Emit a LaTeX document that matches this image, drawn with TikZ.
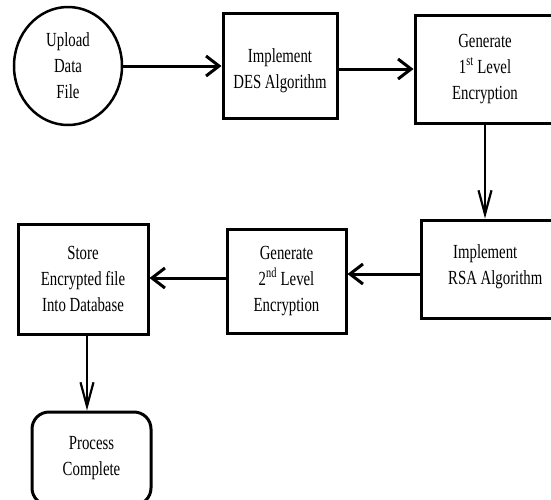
\documentclass[tikz,border=0pt]{standalone}
\usepackage{fontspec}
\setmainfont[FakeStretch=0.74]{Liberation Serif}
\usetikzlibrary{arrows.meta,shapes.geometric}
\begin{document}
\begin{tikzpicture}[x=1pt,y=-1pt,
  lbl/.style={font=\fontsize{20}{26}\selectfont, align=center, inner sep=0pt},
  boxw/.style={draw, line width=3pt, inner sep=0pt, lbl},
  harrow/.style={line width=3pt, -{Straight Barb[length=13pt,width=20pt]}},
  varrow/.style={line width=2.2pt, -{Straight Barb[length=24pt,width=13pt]}},
]
\useasboundingbox (0,0) rectangle (551,499);
\clip (0,0) rectangle (551,499);
\node[ellipse, draw, line width=2.5pt, minimum width=108pt, minimum height=118pt, lbl] (up) at (68,66) {Upload\\Data\\File};
\node[boxw, minimum width=114pt, minimum height=105pt] (des) at (280,65.5) {};
\node[lbl] (dest) at (280,71) {Implement\\DES Algorithm};
\node[boxw, minimum width=140pt, minimum height=108pt] (gen1) at (485,69) {Generate\\1\textsuperscript{st} Level\\Encryption};
\node[boxw, minimum width=134pt, minimum height=98pt] (rsa) at (488,269) {};
\node[lbl, align=left, anchor=west] (rsat) at (448,267) {\hspace*{5pt}Implement\\RSA Algorithm};
\node[boxw, minimum width=119pt, minimum height=104pt] (gen2) at (286.5,281) {Generate\\2\textsuperscript{nd} Level\\Encryption};
\node[boxw, minimum width=130pt, minimum height=110pt] (store) at (83,279) {Store\\Encrypted file\\Into Database};
\node[boxw, rounded corners=17pt, minimum width=119pt, minimum height=93pt] (proc) at (91.5,458.5) {Process\\Complete};
\draw[harrow] (up.east) -- (up.east -| des.west);
\draw[harrow] (des.east |- gen1.west) -- (gen1.west);
\draw[varrow] (gen1.south) -- (gen1.south |- rsa.north);
\draw[harrow] ([yshift=-5pt]rsa.west) -- ([yshift=-5pt]rsa.west -| gen2.east);
\draw[harrow] ([yshift=3pt]gen2.west) -- ([yshift=3pt]gen2.west -| store.east);
\draw[varrow] ([xshift=4pt]store.south) -- ([xshift=4pt]store.south |- proc.north);
\end{tikzpicture}
\end{document}
